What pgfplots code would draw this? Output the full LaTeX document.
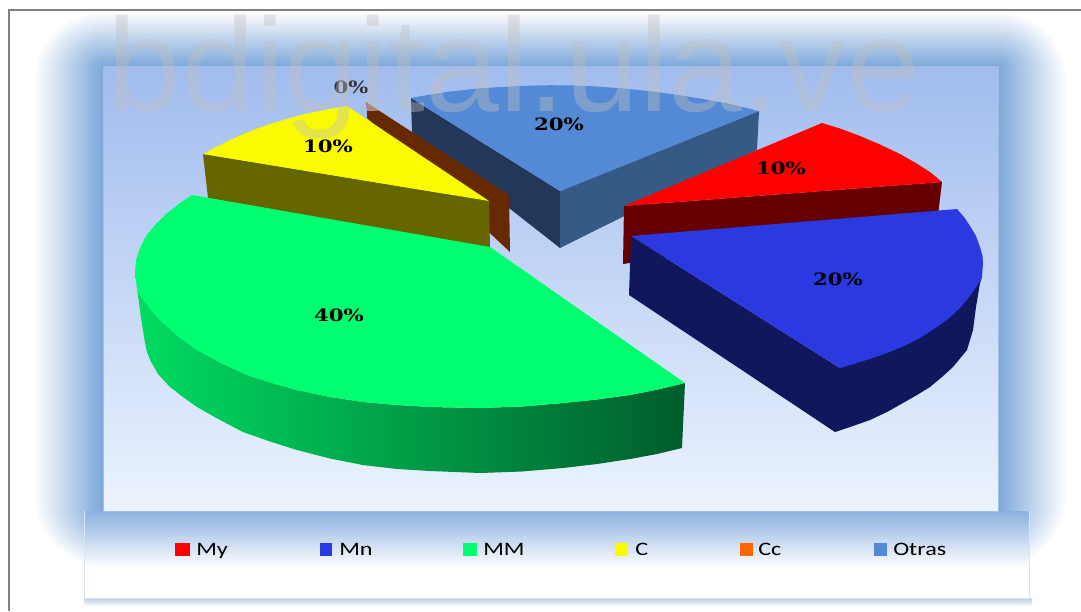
\documentclass[border=0pt]{standalone}
\usepackage{pgfplots}
\pgfplotsset{compat=1.18}
\usepackage{fontspec}
\setmainfont{Liberation Sans}
\newfontfamily\lab{DejaVu Serif}
\newfontfamily\leg{Carlito}
\definecolor{cMy}{HTML}{FF0000}\definecolor{cMyS}{HTML}{660000}
\definecolor{cMn}{HTML}{2A3AE0}\definecolor{cMnS}{HTML}{10175C}
\definecolor{cMM}{HTML}{00FF70}
\definecolor{cC}{HTML}{FBFB00}\definecolor{cCS}{HTML}{666600}
\definecolor{cCc}{HTML}{FF6600}\definecolor{cCcS}{HTML}{662900}
\definecolor{cOt}{HTML}{5389D5}\definecolor{cOtL}{HTML}{22375A}\definecolor{cOtR}{HTML}{365A86}
\definecolor{glow}{HTML}{7BA6DA}
\definecolor{panelTop}{HTML}{8CB1E0}
\definecolor{frame}{HTML}{808080}
\definecolor{wm}{HTML}{C0C0C0}
\definecolor{panelEdge}{HTML}{DAE5F3}
\definecolor{areaEdge}{HTML}{A5BEE4}
\definecolor{shadowTop}{HTML}{B8CCE6}
\definecolor{areaTop}{HTML}{A0BCEE}
\definecolor{areaBot}{HTML}{ECF3FE}
\definecolor{ccTop}{HTML}{A06246}
\definecolor{mmL}{HTML}{00DC60}
\definecolor{mmM}{HTML}{009848}
\definecolor{mmR}{HTML}{005C2C}
\newcommand{\plab}[3]{\node[inner sep=0,xscale=1.25,text=#3] at (axis cs:#1) {\fontsize{17}{17}\lab\textbf{#2}};}
\newcommand{\llab}[2]{\node[anchor=base west,inner sep=0,xscale=1.27] at (axis cs:#1,555.5) {\fontsize{19}{19}\leg #2};}
\begin{document}
\begin{tikzpicture}
\path[use as bounding box,fill=white] (0,0) rectangle (1081pt,611pt);
\begin{scope}[x=1pt,y=-1pt,yshift=611pt]
  \begin{scope}
    \clip (9,10) rectangle (1081,611);
    \foreach \d in {70,68,...,0}{
      \pgfmathsetmacro\p{100*(1-\d/70)}
      \pgfmathsetmacro\dy{\d*0.8}
      \fill[glow!\p!white,rounded corners=\d pt] ({103-\d},{67-\dy}) rectangle ({998+\d},{511+\dy});
    }
  \end{scope}
  % legend panel
  \shade[top color=shadowTop,bottom color=white] (84,598) rectangle (1032,606);
  \fill[white] (84,598) rectangle (1029,511);
  \shade[top color=panelTop,bottom color=white] (84,511) rectangle (1029,568);
  \draw[panelEdge,line width=0.8pt] (84,511) -- (84,598) -- (1029,598) -- (1029,511);
  % plot area
  \shade[top color=areaTop,bottom color=areaBot] (103,67) rectangle (998,511);
  \draw[areaEdge,line width=0.7pt] (103,67) rectangle (998,511);
  \draw[frame,line width=1.6pt] (9,611) -- (9,10) -- (1081,10);
\end{scope}
\begin{axis}[at={(0,0)},anchor=south west,x=1pt,y=1pt,xmin=0,xmax=1081,ymin=0,ymax=611,y dir=reverse,hide axis]
% Otras
\addplot[draw=none,fill=cOtL] coordinates {(411,98)(560,191)(560,248)(412,132)} --cycle;
\addplot[draw=none,fill=cOtR] coordinates {(560,191)(759,111)(757,150)(560,248)} --cycle;
\addplot[draw=none,fill=cOt] coordinates {(411,98)(430,94.5)(450,91.5)(475,88.8)(500,87)(525,85.8)(550,85.2)(575,85.5)(600,86.7)(625,88.6)(650,91.2)(675,94.5)(700,98.5)(730,104)(759,111)(560,191)} --cycle;
% Cc
\addplot[draw=none,fill=cCcS] coordinates {(367,111)(378,110)(509,195)(510,252)(367,118)} --cycle;
\addplot[draw=none,fill=ccTop] coordinates {(366,102)(378,110)(367,111)} --cycle;
% C
\addplot[draw=none,fill=cCS] coordinates {(203,154)(489,201)(490,248)(208,198)} --cycle;
\addplot[draw=none,fill=cC] coordinates {(203,154)(216,147)(230,140)(245,133.5)(260,127.5)(275,122.5)(290,118)(305,114)(320,110.8)(333,108.2)(347,106)(489,201)} --cycle;
% My
\addplot[draw=none,fill=cMyS] coordinates {(624,206)(942,182)(938,215)(623,264)} --cycle;
\addplot[draw=none,fill=cMy] coordinates {(624,206)(822,123)(840,128.5)(860,136)(880,144.5)(900,154)(915,162.5)(930,172)(942,182)} --cycle;
% Mn
\addplot[draw=none,fill=cMnS] coordinates {(631,236)(840,368)(982,277)(980,283)(976,307)(973,330)(967,350)(953,367)(942,377)(930,387)(917,395)(903,403)(887,412)(870,420)(853,426)(835,432)(629,295)} --cycle;
\addplot[draw=none,fill=cMn] coordinates {(631,236)(957,209)(964,217)(970,226)(976,236)(980,247)(982.5,256)(983,263)(982,277)(975,289)(967,300)(958,310)(947,320)(934,329)(920,338)(904,346)(887,353)(873,358)(860,362)(850,365)(840,368)} --cycle;
% MM
\addplot[draw=none,left color=mmL,middle color=mmM,right color=mmR]
 coordinates {(135,273)(138,292)(150,309)(163,323)(179,337)(197,350)(221,363)(247,375)(272,383)(297,390)(330,397)(363,402)(397,405)(430,407)(480,408)(522,406.5)(563,403)(597,399.5)(630,395)(658,389.5)(685,383)(682,448)(657,454)(630,459)(597,464)(563,468)(522,471.5)(480,473)(430,471)(397,469)(363,465)(330,458.5)(297,450)(270,441.5)(243,432)(220,420)(197,407)(183,397)(170,387)(158,374)(150,360)(147,352)(145,343)(141,318)} --cycle;
\addplot[draw=none,fill=cMM] coordinates {(192,195)(180,203)(166,214)(155,225)(146,236)(140,248)(136,260)(135,273)(138,292)(150,309)(163,323)(179,337)(197,350)(221,363)(247,375)(272,383)(297,390)(330,397)(363,402)(397,405)(430,407)(480,408)(522,406.5)(563,403)(597,399.5)(630,395)(658,389.5)(685,383)(490,247)} --cycle;
% legend keys
\addplot[draw=none,fill=cMy] coordinates {(175,543)(190,543)(190,556)(175,556)} --cycle;
\addplot[draw=none,fill=cMn] coordinates {(320,543)(332,543)(332,556)(320,556)} --cycle;
\addplot[draw=none,fill=cMM] coordinates {(463,543)(477,543)(477,556)(463,556)} --cycle;
\addplot[draw=none,fill=cC] coordinates {(615,543)(628,543)(628,556)(615,556)} --cycle;
\addplot[draw=none,fill=cCc] coordinates {(740,543)(753,543)(753,556)(740,556)} --cycle;
\addplot[draw=none,fill=cOt] coordinates {(874,543)(887,543)(887,556)(874,556)} --cycle;
\plab{351,87}{0\%}{black!80}
\plab{328,146}{10\%}{black}
\plab{559,124}{20\%}{black}
\plab{781,168}{10\%}{black}
\plab{838,279}{20\%}{black}
\plab{339,315}{40\%}{black}
\llab{196}{My}\llab{339}{Mn}\llab{483}{MM}\llab{635}{C}\llab{758}{Cc}\llab{893}{Otras}
\end{axis}
\begin{scope}[x=1pt,y=-1pt,yshift=611pt]
\node[anchor=base west,inner sep=0,text=wm,opacity=0.4] at (107,112) {\fontsize{133}{133}\selectfont bdigital.ula.ve};
\end{scope}
\end{tikzpicture}
\end{document}
